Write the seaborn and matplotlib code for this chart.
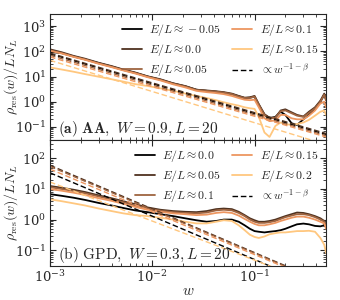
import numpy as np
import pandas as pd
import matplotlib
matplotlib.use("Agg")
import matplotlib.pyplot as plt
from matplotlib.lines import Line2D
from matplotlib.ticker import LogLocator, NullFormatter
import seaborn as sns

sns.set_style("ticks")
plt.rcParams["mathtext.fontset"] = "cm"
plt.rcParams["font.family"] = ["DejaVu Serif"]
plt.rcParams["axes.formatter.use_mathtext"] = True
plt.rcParams["xtick.direction"] = "in"
plt.rcParams["ytick.direction"] = "in"

# common frequency grid
W = [0.001, 0.0013, 0.0017, 0.0022, 0.003, 0.004, 0.0052, 0.0068, 0.009, 0.012,
     0.016, 0.021, 0.027, 0.034, 0.042, 0.05, 0.06, 0.07, 0.08, 0.09,
     0.1, 0.11, 0.125, 0.14, 0.16, 0.18, 0.2, 0.23, 0.26, 0.3,
     0.34, 0.39, 0.44, 0.48, 0.5]

# (a) AA, W=0.9
AA_E = ["-0.05", "0.0", "0.05", "0.1", "0.15"]
AA_m005 = [95, 85, 63, 48, 34, 25, 18.5, 14, 10, 7.5, 5.3, 4.1, 3.0, 2.7, 2.5, 2.3, 2.0, 1.65, 1.4, 1.45,
           1.6, 0.75, 0.3, 0.22, 0.25, 0.4, 0.3, 0.14, 0.12, 0.2, 0.3, 0.55, 1.0, 1.9, 1.2]
AA_000 = [120, 92, 66, 51, 35, 26, 19, 14.5, 10.2, 7.8, 5.4, 4.2, 3.0, 2.8, 2.6, 2.4, 2.1, 1.7, 1.45, 1.5,
          1.7, 0.8, 0.32, 0.23, 0.24, 0.45, 0.5, 0.38, 0.3, 0.26, 0.4, 0.6, 1.1, 2.1, 1.3]
AA_005 = [110, 86, 62, 48, 33, 24.5, 18, 13.8, 9.8, 7.4, 5.2, 4.0, 2.9, 2.7, 2.5, 2.3, 2.0, 1.6, 1.4, 1.4,
          1.6, 0.75, 0.3, 0.22, 0.23, 0.42, 0.45, 0.35, 0.28, 0.25, 0.36, 0.55, 1.0, 1.9, 1.1]
AA_010 = [105, 82, 60, 46, 32, 23.5, 17.5, 13.2, 9.4, 7.0, 4.9, 3.7, 2.7, 2.4, 2.2, 2.0, 1.7, 1.4, 1.2, 1.15,
          1.2, 0.6, 0.22, 0.17, 0.18, 0.3, 0.3, 0.22, 0.2, 0.2, 0.28, 0.45, 0.85, 1.0, 0.6]
AA_015 = [23, 19, 15.5, 12.5, 9.8, 7.8, 6.3, 5.0, 4.2, 3.4, 2.7, 2.1, 1.7, 1.4, 1.15, 0.95, 0.8, 0.7, 0.6, 0.55,
          0.52, 0.25, 0.06, 0.04, 0.11, 0.15, 0.13, 0.12, 0.13, 0.15, 0.19, 0.28, 0.4, 0.45, 0.3]
# power-law fits, values at w=1e-3 and w=0.5
W_FIT = [0.001, 0.5]
AA_FIT = [[80, 0.05], [85, 0.055], [70, 0.045], [60, 0.04], [44, 0.02]]

# (b) GPD, W=0.3
GPD_E = ["0.0", "0.05", "0.1", "0.15", "0.2"]
GPD_000 = [6.8, 6.0, 5.2, 4.4, 3.5, 2.9, 2.4, 2.0, 1.75, 1.5, 1.3, 1.1, 0.95, 0.85, 0.9, 1.0, 1.0, 0.85, 0.65, 0.5,
           0.42, 0.4, 0.38, 0.4, 0.42, 0.45, 0.5, 0.6, 0.7, 0.74, 0.7, 0.62, 0.6, 0.65, 0.74]
GPD_005 = [12.6, 11, 9.5, 8, 6.2, 5.0, 4.0, 3.2, 2.5, 2.1, 1.9, 1.8, 1.75, 1.9, 2.2, 2.3, 2.2, 1.8, 1.4, 1.1,
           0.95, 0.85, 0.85, 0.9, 1.0, 1.15, 1.3, 1.5, 1.7, 1.65, 1.5, 1.3, 1.1, 0.9, 0.6]
GPD_010 = [11.5, 10, 8.6, 7.3, 5.7, 4.6, 3.7, 2.9, 2.3, 1.95, 1.75, 1.65, 1.6, 1.7, 2.0, 2.1, 2.0, 1.65, 1.3, 1.0,
           0.85, 0.78, 0.78, 0.82, 0.9, 1.05, 1.2, 1.35, 1.5, 1.5, 1.4, 1.2, 1.0, 0.85, 0.55]
GPD_015 = [10, 8.8, 7.6, 6.4, 5.0, 4.1, 3.3, 2.6, 2.1, 1.8, 1.6, 1.5, 1.4, 1.45, 1.65, 1.75, 1.65, 1.35, 1.05, 0.85,
           0.72, 0.65, 0.65, 0.7, 0.78, 0.9, 1.0, 1.15, 1.25, 1.25, 1.15, 1.0, 0.85, 0.75, 0.5]
GPD_020 = [4.6, 4.0, 3.4, 2.9, 2.3, 1.9, 1.6, 1.4, 1.3, 1.15, 1.0, 0.85, 0.75, 0.75, 0.85, 0.95, 0.9, 0.65, 0.45, 0.32,
           0.27, 0.25, 0.28, 0.33, 0.36, 0.38, 0.38, 0.4, 0.42, 0.42, 0.43, 0.4, 0.25, 0.15, 0.08]
GPD_FIT = [[34, 0.005], [60, 0.0083], [55, 0.008], [45, 0.0075], [17, 0.006]]

COLORS = plt.get_cmap("copper")(np.linspace(0, 1, 5))

panels = [
    (AA_E, [AA_m005, AA_000, AA_005, AA_010, AA_015], AA_FIT, (0.03, 3000),
     r"$\mathbf{(a)\ AA},\ W=0.9, L=20$"),
    (GPD_E, [GPD_000, GPD_005, GPD_010, GPD_015, GPD_020], GPD_FIT, (0.03, 400),
     r"$\mathrm{(b)\ GPD},\ W=0.3, L=20$"),
]

fig = plt.figure(figsize=(3.4, 3.0), dpi=100)
ax_top = fig.add_axes([0.147, 0.533, 0.812, 0.42])
ax_bot = fig.add_axes([0.147, 0.113, 0.812, 0.42], sharex=ax_top)

for ax, (elist, curves, fits, ylim, tag) in zip([ax_top, ax_bot], panels):
    rows = []
    for e, vals in zip(elist, curves):
        for w, v in zip(W, vals):
            rows.append({"w": w, "rho": v, "E": e})
    df = pd.DataFrame(rows)
    pal = {e: COLORS[i] for i, e in enumerate(elist)}
    sns.lineplot(data=df, x="w", y="rho", hue="E", palette=pal, lw=1.3,
                 legend=False, ax=ax, estimator=None)
    for i, f in enumerate(fits):
        sns.lineplot(x=W_FIT, y=f, color=COLORS[i], lw=1.0, ax=ax,
                     dashes=False, linestyle=(0, (4, 2)))
    ax.set_xscale("log")
    ax.set_yscale("log")
    ax.set_xlim(1e-3, 0.5)
    ax.set_ylim(*ylim)
    ax.yaxis.set_major_locator(LogLocator(base=10, numticks=10))
    ax.yaxis.set_minor_locator(LogLocator(base=10, subs=np.arange(2, 10), numticks=20))
    ax.yaxis.set_minor_formatter(NullFormatter())
    ax.tick_params(which="both", top=True, right=True, labelsize=9.5, pad=2.5)
    ax.tick_params(which="major", length=4)
    ax.tick_params(which="minor", length=2)
    ax.set_ylabel(r"$\rho_{\rm res}(w)/LN_L$", fontsize=10)
    ax.yaxis.set_label_coords(-0.11, 0.5)
    ax.text(0.03, 0.06, tag, transform=ax.transAxes, fontsize=11)

    handles = [Line2D([], [], color=COLORS[i], lw=1.3) for i in range(5)]
    handles.append(Line2D([], [], color="black", lw=1.0, linestyle=(0, (4, 2))))
    labels = [r"$E/L \approx %s$" % e for e in elist] + [r"$\propto w^{-1-\beta}$"]
    ax.legend(handles, labels, ncol=2, frameon=False, loc="upper right",
              fontsize=8.5, handlelength=1.7, columnspacing=1.0, labelspacing=0.32,
              borderaxespad=0.3, handletextpad=0.6)

plt.setp(ax_top.get_xticklabels(), visible=False)
ax_top.set_xlabel("")
ax_bot.set_xlabel(r"$w$", fontsize=11, labelpad=-1)

plt.savefig("out.png", dpi=100)
